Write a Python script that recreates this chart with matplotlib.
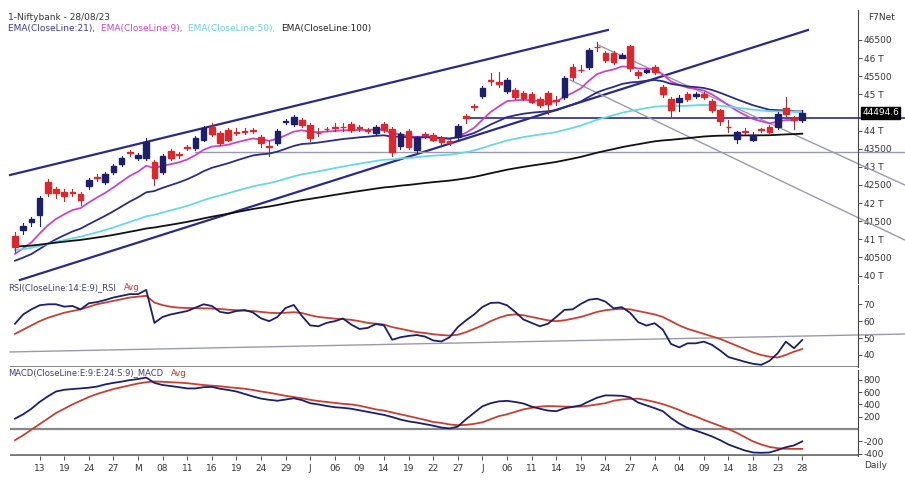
import numpy as np
import matplotlib
matplotlib.use("Agg")
import matplotlib.pyplot as plt
plt.rcParams['axes.unicode_minus'] = False

# ---------------- data ----------------
opens = [41090,41256,41477,41670,42581,42388,42305,42305,42250,42470,42719,42581,42857,43078,43409,43243,43243,43133,42857,43436,
         43354,43547,43519,43740,44099,43933,44016,43961,43961,44016,43823,43574,43657,44237,44182,44292,44154,43933,44044,44071,
         44099,44182,44071,44016,43933,44182,44044,43574,43988,43464,43906,43878,43795,43712,43823,44402,44651,44954,45396,45341,
         45092,45120,45037,45010,44872,45037,44844,44927,45755,45672,45755,46307,46141,46141,46003,46334,45617,45617,45755,45203,
         44872,44789,45010,44954,45010,44816,44568,44099,43768,43961,43740,44016,44099,44099,44623,44347,44292]
closes = [40787,41366,41560,42139,42277,42277,42194,42277,42084,42636,42691,42802,43022,43243,43381,43326,43685,42691,43298,43243,
          43326,43519,43795,44071,43906,43657,43740,43933,43950,43988,43657,43560,43988,44264,44375,44154,43795,43920,44030,44060,
          44085,44016,44060,44000,44099,44016,43409,43906,43547,43795,43878,43740,43685,43657,44126,44347,44640,45175,45368,45286,
          45396,44927,44899,44789,44706,44734,44830,45451,45479,45660,46224,46295,45948,45893,46086,45727,45534,45672,45617,45010,
          44568,44899,44872,45010,44927,44568,44264,44085,43961,43950,43878,44005,43961,44458,44458,44292,44494.6]
highs = [41200,41450,41620,42200,42650,42450,42380,42380,42300,42700,42800,42850,43080,43300,43470,43380,43800,43200,43350,43480,
         43420,43600,43850,44130,44200,44000,44080,44060,44060,44080,43880,43700,44040,44330,44430,44350,44200,44080,44110,44200,
         44200,44230,44150,44080,44150,44240,44090,43960,44040,43850,43960,43930,43850,43760,44180,44460,44720,45230,45580,45620,
         45450,45170,45090,45060,44920,45090,44950,45500,45830,45800,46270,46450,46200,46190,46130,46350,45680,45700,45800,45260,
         44920,44980,45060,45060,45060,44860,44600,44300,44000,44060,43950,44080,44150,44500,44920,44400,44580]
lows = [40650,41150,41380,41380,42200,42150,42050,42200,41950,42400,42600,42530,42800,43020,43300,43200,43200,42500,42800,43200,
        43250,43470,43470,43700,43850,43600,43700,43880,43900,43920,43550,43300,43600,44180,44130,44100,43700,43850,43980,44000,
        44000,43960,43990,43930,43880,43960,43300,43500,43480,43400,43800,43700,43630,43600,43780,44200,44560,44900,45250,45200,
        45050,44880,44850,44750,44650,44450,44700,44880,45400,45620,45700,46200,45900,45850,46000,45650,45450,45580,45550,44920,
        44400,44550,44820,44900,44880,44500,44150,43950,43650,43900,43700,43960,43900,44050,44400,44050,44250]

ema_periods = [9, 21, 50, 100]
ema_seeds = [40550, 40370, 40700, 40800]

rsi = [58.5,64,67,69.4,70,70,68.6,69,67,70.6,71.3,72.5,74,75,76,76,78.5,59,62.5,64,
       65,66,68,70,69,65.5,64.7,66,66.6,65.2,61.7,60,62.5,67.8,69.6,63,57.5,57,59,60,
       61.6,58,55.4,56,58.3,57.5,49,50.5,51.3,51.8,50.9,48.6,48,50.5,56.5,60.5,64,68.4,70.8,71,
       69.4,65.5,61,59,57,58.5,62.5,66.7,67,70.2,72.7,73.3,71.6,67.6,68.3,65,59.4,57.4,58.8,55,
       46.5,44.5,46.9,46.9,47.9,46,42.6,38.8,37.4,36,34.8,34.2,36.5,41,47.9,44,48.9]
rsi_avg = [52.5,55,57.5,60,62,63.5,65,66,67,68.5,70,71,72,73,74,74.5,75,71,69.5,68.5,
           68,67.8,67.7,67.6,67.5,67.2,66.8,66.5,66.2,66,65.5,65,64.8,65,65.3,64.8,63.5,62.5,62,61.5,
           61.2,60.8,60,59,58.5,58,56.5,55.5,54.5,53.5,53,52.3,51.8,51.5,52,53.5,55.5,57.5,60,62,
           63.5,64,63.5,62.5,61.5,60.5,60,60.5,61.5,62.5,64,65.5,66.5,67,67.3,67,66,65,64,62.5,
           60,57.5,55.5,54,52.5,51,49.5,47.5,45.5,43.5,41.5,40,39,38.5,40,42,43.5]
macd = [170,240,330,440,530,610,638,650,660,672,690,725,750,770,795,812,836,750,715,698,
        680,660,660,680,685,655,635,610,570,530,495,475,460,480,500,470,420,400,375,355,
        345,330,305,280,255,230,195,155,125,105,80,55,25,10,40,160,265,370,420,450,
        458,440,415,365,330,300,290,337,360,385,450,510,547,545,540,515,430,385,340,290,
        180,90,20,-25,-70,-120,-180,-250,-300,-347,-380,-385,-380,-340,-295,-265,-200]
macd_avg = [-180,-100,-10,80,170,260,330,400,460,520,570,610,650,680,710,740,760,773,768,760,
            755,745,730,715,705,695,680,668,655,635,610,590,565,540,520,500,475,455,440,425,
            410,400,380,350,320,300,270,240,210,180,150,115,100,75,63,68,85,110,160,210,
            240,280,320,345,365,373,370,365,363,365,380,400,420,460,480,490,494,470,440,405,
            360,310,250,205,150,100,50,0,-60,-130,-200,-250,-290,-310,-320,-321,-321]

tick_labels = ['13','19','24','27','M','08','11','16','19','24','29','J','06','09','14','19','22','27',
               'J','06','11','14','19','24','27','A','04','09','14','18','23','28']
price_ticks = [46500,46000,45500,45000,44000,43500,43000,42500,42000,41500,41000,40500,40000]
price_tick_labels = ['46500','46 T','45500','45 T','44 T','43500','43 T','42500','42 T','41500','41 T','40500','40 T']

# trend lines (candle index, value)
upper_channel = [(-0.6, 42774), (72.3, 46776)]
lower_channel = [(0.6, 39876), (96.7, 46776)]
blue_support = [(54.9, 44347), (108.5, 44347)]
grey_support = [(22.0, 43409), (108.5, 43409)]
grey_down1 = [(71.1, 46362), (108.5, 42498)]
grey_down2 = [(67.7, 45396), (108.5, 40980)]
rsi_trend = [(-0.6, 41.8), (108.5, 52.4)]

# ---------------- helpers ----------------
def ema(values, period, seed):
    a = 2.0 / (period + 1)
    out, e = [], seed
    for v in values:
        e = e + a * (v - e)
        out.append(e)
    return out

NAVY = '#1c1f6b'
RED = '#e0262a'
W, H = 905, 482
fig = plt.figure(figsize=(9.05, 4.82), dpi=100)

def ax_at(top, bottom):
    return fig.add_axes([10 / W, 1 - bottom / H, 848 / W, (bottom - top) / H])

axp = ax_at(10, 283)
axr = ax_at(285, 367)
axm = ax_at(370, 456)
n = len(closes)
x = np.arange(n)
XL = (-0.61, 102.8)

for ax in (axp, axr, axm):
    ax.set_xlim(*XL)
    for s in ('top', 'left', 'bottom'):
        ax.spines[s].set_visible(False)
    ax.spines['right'].set_color('#444444')
    ax.spines['right'].set_linewidth(0.8)
    ax.yaxis.tick_right()
    ax.tick_params(axis='y', labelsize=6.5, colors='#333333', length=3, width=0.6, pad=1)
    ax.tick_params(axis='x', bottom=False, labelbottom=False)

# ---- price panel ----
axp.set_ylim(39793, 47328)
ema_colors = {9: '#c944c9', 21: '#2a2d8a', 50: '#66d8e6', 100: '#111111'}
for p, sd in zip(ema_periods, ema_seeds):
    axp.plot(x, ema(closes, p, sd), color=ema_colors[p], lw=1.3, zorder=3)

for (a, b), col, lw in [(upper_channel, '#2a2a8c', 1.6), (lower_channel, '#2a2a8c', 1.6),
                        (blue_support, '#2a2a8c', 1.2), (grey_support, '#9a9aae', 1.0),
                        (grey_down1, '#9a9aae', 1.0), (grey_down2, '#9a9aae', 1.0)]:
    axp.plot([a[0], b[0]], [a[1], b[1]], color=col, lw=lw, zorder=2, clip_on=False)

for i in range(n):
    o, c, h, l = opens[i], closes[i], highs[i], lows[i]
    col = NAVY if c >= o else RED
    axp.plot([i, i], [l, h], color=col if col == NAVY else '#a03030', lw=0.8, zorder=4)
    hgt = max(abs(c - o), 25)
    axp.add_patch(plt.Rectangle((i - 0.35, min(o, c)), 0.7, hgt, color=col, zorder=5))

axp.set_yticks(price_ticks)
axp.set_yticklabels(price_tick_labels)
axp.text(1.005, closes[-1], f'{closes[-1]:.1f}', transform=axp.get_yaxis_transform(),
         fontsize=6.5, color='white', va='center', ha='left',
         bbox=dict(boxstyle='square,pad=0.15', fc='black', ec='black'))

# ---- RSI panel ----
axr.set_ylim(32.9, 81.4)
axr.plot([rsi_trend[0][0], rsi_trend[1][0]], [rsi_trend[0][1], rsi_trend[1][1]],
         color='#9a9aae', lw=1.0, clip_on=False)
axr.plot(x, rsi_avg, color='#c8402f', lw=1.3)
axr.plot(x, rsi, color=NAVY, lw=1.3)
axr.set_yticks([70, 60, 50, 40])
axr.axhline(32.9, color='#777777', lw=2.0)

# ---- MACD panel ----
axm.set_ylim(-437, 959)
axm.axhline(0, color='#888888', lw=1.6)
axm.axhline(-420, color='#777777', lw=2.0)
axm.plot(x, macd_avg, color='#c8402f', lw=1.3)
axm.plot(x, macd, color=NAVY, lw=1.3)
axm.set_yticks([800, 600, 400, 200, -200, -400])
axm.set_xticks(np.arange(3, 3 * len(tick_labels) + 1, 3))
axm.set_xticklabels(tick_labels)
axm.tick_params(axis='x', bottom=True, labelbottom=True, labelsize=6.5, colors='#333333',
                length=3, width=0.6, pad=3)

# ---- texts ----
def ftext(px, py, s, col='#333333', size=7):
    return fig.text(px / W, 1 - py / H, s, color=col, fontsize=size, va='center', ha='left')

ftext(8, 17, '1-Niftybank - 28/08/23', size=6.5)
renderer = fig.canvas.get_renderer()
px = 8
for s, col in [('EMA(CloseLine:21), ', '#3a3d9a'), ('EMA(CloseLine:9), ', '#c944c9'),
               ('EMA(CloseLine:50), ', '#66d0e0'), ('EMA(CloseLine:100)', '#222222')]:
    t = ftext(px, 29, s, col, 6.5)
    px += t.get_window_extent(renderer).width + 3
ftext(868, 17, 'F7Net', size=6.5)
ftext(8, 288, 'RSI(CloseLine:14:E:9)_RSI', '#3a3d7a', 6)
ftext(124, 288, 'Avg', '#d03020', 6)
ftext(8, 373, 'MACD(CloseLine:E:9:E:24:S:9)_MACD', '#3a3d7a', 6)
ftext(171, 373, 'Avg', '#d03020', 6)
ftext(864, 466, 'Daily', size=6.5)

fig.savefig('out.png', dpi=100)
